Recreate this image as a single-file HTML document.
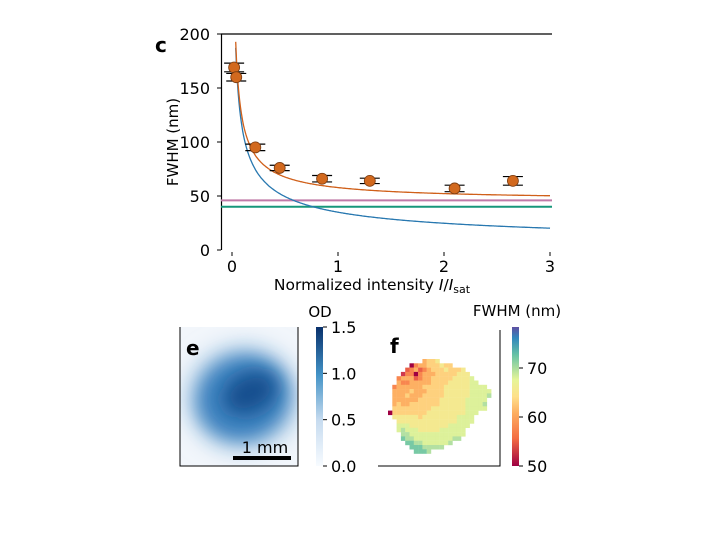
<!DOCTYPE html>
<html><head><meta charset="utf-8"><style>
body{margin:0;background:#fff;}
svg{display:block;font-family:"DejaVu Sans","Liberation Sans",sans-serif;}
</style></head><body>
<svg id="fig" width="720" height="540" viewBox="0 0 720 540">
<defs>
<filter id="soft" x="-50%" y="-50%" width="200%" height="200%"><feGaussianBlur stdDeviation="9"/></filter>
<filter id="soft2" x="-50%" y="-50%" width="200%" height="200%"><feGaussianBlur stdDeviation="12"/></filter>
<linearGradient id="cbBlue" x1="0" y1="1" x2="0" y2="0">
<stop offset="0" stop-color="#f7fbff"/><stop offset="0.33" stop-color="#c6dbef"/>
<stop offset="0.66" stop-color="#4292c6"/><stop offset="1" stop-color="#08306b"/>
</linearGradient>
<linearGradient id="cbSpec" x1="0" y1="1" x2="0" y2="0">
<stop offset="0" stop-color="#9e0142"/><stop offset="0.2" stop-color="#f46d43"/>
<stop offset="0.38" stop-color="#fdae61"/><stop offset="0.5" stop-color="#fee08b"/>
<stop offset="0.62" stop-color="#e6f598"/><stop offset="0.8" stop-color="#66c2a5"/>
<stop offset="0.92" stop-color="#3288bd"/><stop offset="1" stop-color="#5e4fa2"/>
</linearGradient>
<clipPath id="eclip"><rect x="180" y="327" width="118" height="139"/></clipPath>
</defs>
<g id="chartC"></g>
<g id="panelE">
<rect x="180" y="327" width="118" height="139" fill="#f2f6fb"/>
<g clip-path="url(#eclip)">
<ellipse cx="243" cy="398" rx="56" ry="52" fill="#a9c9e4" filter="url(#soft2)"/>
<ellipse cx="243" cy="398" rx="46" ry="42" fill="#3e82bf" transform="rotate(-20 243 398)" filter="url(#soft)"/>
<ellipse cx="250" cy="393" rx="28" ry="20" fill="#12508f" transform="rotate(-25 250 393)" filter="url(#soft)"/>
</g>
<path d="M180 327 V466 H298 V327" fill="none" stroke="#000" stroke-width="1"/>
<text x="186" y="355" font-size="20" font-weight="bold">e</text>
<rect x="233" y="456" width="58" height="4" fill="#000"/>
<text x="265" y="453" font-size="16" text-anchor="middle">1 mm</text>
<rect x="316" y="327" width="7" height="139" fill="url(#cbBlue)"/>
<text x="320" y="317" font-size="15" text-anchor="middle">OD</text>
</g>
<g id="panelF">
<path d="M378 466 H500 V330" fill="none" stroke="#000" stroke-width="1"/>
<text x="390" y="353" font-size="20" font-weight="bold">f</text>
<rect x="512" y="327" width="7" height="139" fill="url(#cbSpec)"/>
<text x="517" y="316" font-size="15" text-anchor="middle">FWHM (nm)</text>
</g>
</svg>
<script>
const xTicks=[0,1,2,3];
const yTicks=[0,50,100,150,200];
const pointX=[0.02,0.04,0.22,0.45,0.85,1.3,2.1,2.65];
const pointY=[169,160,95,76,66,64,57,64];
const errY=[4,3.5,3,2.5,3,2.5,3,4];
const fitA=[46];
const fitB=[35];
const pinkLevel=[46];
const greenLevel=[40];
const odTicks=[0.0,0.5,1.0,1.5];
const fwhmTicks=[50,60,70];
const mapRows=[
"........4556",
".....0344555655",
"....23423455565556",
"...1330344455555666",
"..344423445555566667",
"..4334444455556666677",
".3444444555556666667777",
".44445444555566666677777",
".44454445555566666677778",
".4444445555566666677777",
".4544555555566666677778",
".5555555556666666677777",
"055555555666666666777",
".6666665666666667777",
"..666666666666667777",
"..77766666666677777",
"..7877766666777777",
"...887777777777777",
"...98877777777788",
"....99887777778",
".....99988888",
"......9998"];
const NS="http://www.w3.org/2000/svg";
function mk(tag,attrs,parent,text){const e=document.createElementNS(NS,tag);for(const k in attrs)e.setAttribute(k,attrs[k]);if(text!==undefined)e.textContent=text;parent.appendChild(e);return e;}
const sx=v=>232+v*106, sy=v=>250-v*1.08;
const g=document.getElementById('chartC');
let el;
el=mk('path',{d:`M221.5 ${sy(200)} V${sy(0)}`,stroke:'#000',fill:'none','stroke-width':1.2},g);


el=mk('path',{d:`M221 ${sy(200)} H552`,stroke:'#000',fill:'none','stroke-width':1.2},g);


yTicks.forEach(t=>{
 el=mk('line',{x1:217,x2:221,y1:sy(t),y2:sy(t),stroke:'#000'},g);
 
 
 el=mk('text',{x:210,y:sy(t)+6,'font-size':16,'text-anchor':'end'},g,String(t));
 
 
});
xTicks.forEach(t=>{
 el=mk('line',{x1:sx(t),x2:sx(t),y1:252,y2:256,stroke:'#000'},g);
 
 
 el=mk('text',{x:sx(t),y:272,'font-size':16,'text-anchor':'middle'},g,String(t));
 
 
});
el=mk('text',{x:0,y:0,'font-size':15,'text-anchor':'middle',transform:`translate(178 ${sy(100)}) rotate(-90)`},g,'FWHM (nm)');


el=mk('text',{x:372,y:290,'font-size':15.5,'text-anchor':'middle'},g);
el.innerHTML='Normalized intensity <tspan font-style="italic">I</tspan>/<tspan font-style="italic">I</tspan><tspan font-size="11" dy="3">sat</tspan>';


el=mk('text',{x:155,y:52,'font-size':20,'font-weight':'bold'},g,'c');


el=mk('line',{x1:221,x2:552,y1:sy(pinkLevel[0]),y2:sy(pinkLevel[0]),stroke:'#c07aa8','stroke-width':2},g);


el=mk('line',{x1:221,x2:552,y1:sy(greenLevel[0]),y2:sy(greenLevel[0]),stroke:'#16977a','stroke-width':2},g);


function curve(f){let d='';for(let i=0;i<=400;i++){const x=0.005+i*(3-0.005)/400;let y=f(x);if(y>200)continue;d+=(d?'L':'M')+sx(x).toFixed(1)+' '+sy(y).toFixed(1);}return d;}
el=mk('path',{d:curve(x=>fitB[0]/Math.sqrt(x)),fill:'none',stroke:'#2878b0','stroke-width':1.3},g);


el=mk('path',{d:curve(x=>Math.sqrt(fitA[0]*fitA[0]+fitB[0]*fitB[0]/x)),fill:'none',stroke:'#d0601a','stroke-width':1.3},g);


pointX.forEach((x,i)=>{
 const cx=sx(x),cy=sy(pointY[i]);
 [pointY[i]+errY[i],pointY[i]-errY[i]].forEach(v=>{
  el=mk('line',{x1:cx-10,x2:cx+10,y1:sy(v),y2:sy(v),stroke:'#000','stroke-width':1.2},g);
  
  
 });
 el=mk('circle',{cx:cx,cy:cy,r:5.5,fill:'#d2691e',stroke:'#7a3b10','stroke-width':0.8},g);
 
 
});
const pe=document.getElementById('panelE');
odTicks.forEach(t=>{
 const y=466-t/1.5*139;
 el=mk('line',{x1:323,x2:327,y1:y,y2:y,stroke:'#000'},pe);
 
 
 el=mk('text',{x:331,y:y+6,'font-size':16},pe,t.toFixed(1));
 
 
});
const pf=document.getElementById('panelF');
fwhmTicks.forEach(t=>{
 const y=466-(t-50)*4.9;
 el=mk('line',{x1:519,x2:523,y1:y,y2:y,stroke:'#000'},pf);
 
 
 el=mk('text',{x:527,y:y+6,'font-size':16},pf,String(t));
 
 
});
const spec=[[0,'#9e0142'],[0.1,'#d53e4f'],[0.22,'#f46d43'],[0.36,'#fdae61'],[0.5,'#fee08b'],[0.62,'#e6f598'],[0.75,'#abdda4'],[0.85,'#66c2a5'],[0.93,'#3288bd'],[1,'#5e4fa2']];
function hex(h){return [1,3,5].map(i=>parseInt(h.substr(i,2),16));}
function cmap(t){t=Math.max(0,Math.min(1,t));for(let i=1;i<spec.length;i++){if(t<=spec[i][0]){const a=spec[i-1],b=spec[i];const f=(t-a[0])/(b[0]-a[0]);const ca=hex(a[1]),cb=hex(b[1]);return 'rgb('+ca.map((c,k)=>Math.round(c+(cb[k]-c)*f)).join(',')+')';}}return spec[spec.length-1][1];}
const cs=4.3;
mapRows.forEach((row,r)=>{
 [...row].forEach((ch,c)=>{
  if(ch==='.')return;
  const v=50+(+ch)*2.6;
  el=mk('rect',{x:(388+c*cs).toFixed(2),y:(359+r*cs).toFixed(2),width:cs+0.2,height:cs+0.2,fill:cmap((v-50)/28.4)},pf);
  
  
 });
});
</script>
</body></html>
